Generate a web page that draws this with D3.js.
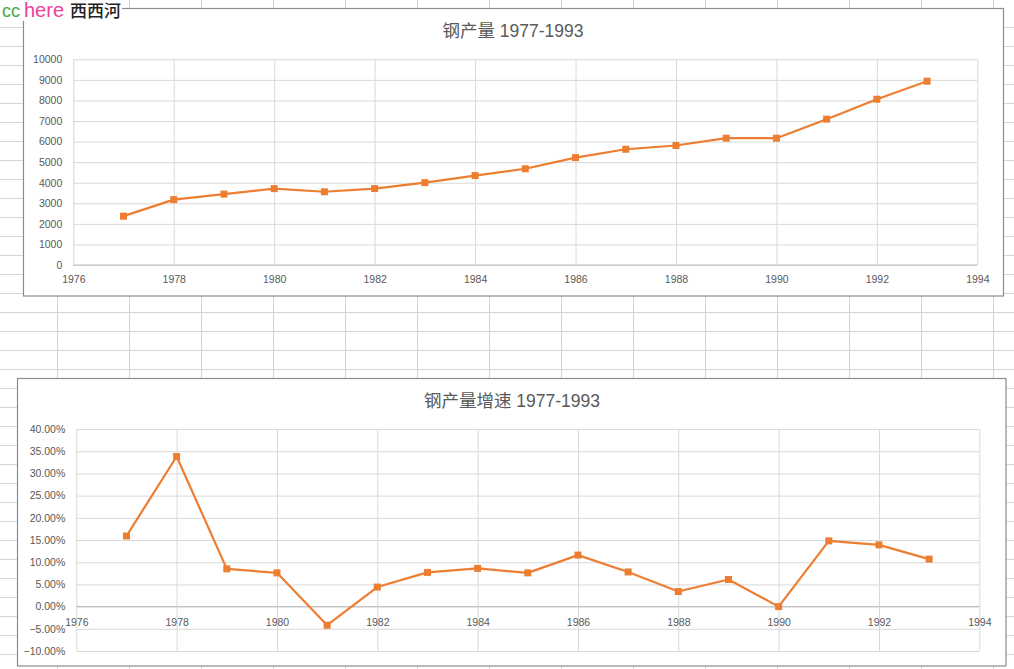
<!DOCTYPE html>
<html>
<head>
<meta charset="utf-8">
<script src="https://cdn.jsdelivr.net/npm/d3@7"></script>
<style>
  body { margin: 0; background: #fff; }
  text { font-family: "Liberation Sans", "Noto Sans CJK SC", sans-serif; }
</style>
</head>
<body>
<div id="vis"></div>
<script>
// datos
const years = [1977, 1978, 1979, 1980, 1981, 1982, 1983, 1984, 1985, 1986, 1987, 1988, 1989, 1990, 1991, 1992, 1993];
const output = [2374, 3178, 3448, 3712, 3560, 3716, 4002, 4347, 4679, 5220, 5628, 5810, 6165, 6165, 7090, 8060, 8935];
const growth = [0.159, 0.338, 0.085, 0.076, -0.042, 0.044, 0.077, 0.086, 0.076, 0.116, 0.078, 0.034, 0.061, 0.0, 0.148, 0.139, 0.107];
const yearTicks = [1976, 1978, 1980, 1982, 1984, 1986, 1988, 1990, 1992, 1994];
const outputTicks = [0, 1000, 2000, 3000, 4000, 5000, 6000, 7000, 8000, 9000, 10000];
const growthTicks = [-0.10, -0.05, 0, 0.05, 0.10, 0.15, 0.20, 0.25, 0.30, 0.35, 0.40];
const title1 = "钢产量 1977-1993";
const title2 = "钢产量增速 1977-1993";

const W = 1014, H = 669;
const orange = "#ED7D31";
const textGrey = "#595959";

const svg = d3.select("#vis").append("svg");
svg.attr("width", W).attr("height", H);

// cuadricula de la hoja de calculo
const sheet = svg.append("g").attr("stroke", "#d4d4d4").attr("stroke-width", 1);
sheet.selectAll("line.row")
    .data(d3.range(27.5, H, 19))
    .join("line")
    .attr("class", "row")
    .attr("x1", 0).attr("x2", W)
    .attr("y1", d => d).attr("y2", d => d);
sheet.selectAll("line.col")
    .data(d3.range(57.5, W, 72))
    .join("line")
    .attr("class", "col")
    .attr("x1", d => d).attr("x2", d => d)
    .attr("y1", 0).attr("y2", H);

function drawChart(cfg) {
    const g = svg.append("g");

    g.append("rect")
        .attr("x", cfg.box[0]).attr("y", cfg.box[1])
        .attr("width", cfg.box[2]).attr("height", cfg.box[3])
        .attr("fill", "#fff")
        .attr("stroke", "#8c8c8c")
        .attr("stroke-width", 1.2);

    g.append("text")
        .attr("x", cfg.titleX)
        .attr("y", cfg.titleY)
        .attr("text-anchor", "middle")
        .attr("fill", textGrey)
        .style("font-size", "17.5px")
        .text(cfg.title);

    const x = d3.scaleLinear().domain([1976, 1994]).range(cfg.xr);
    const y = d3.scaleLinear().domain(cfg.yd).range(cfg.yr);

    // lineas horizontales + etiquetas del eje y
    const gy = g.append("g")
        .attr("transform", `translate(${cfg.xr[0]},0)`)
        .call(d3.axisLeft(y)
            .tickValues(cfg.yTicks)
            .tickSize(-(cfg.xr[1] - cfg.xr[0]))
            .tickPadding(11)
            .tickFormat(cfg.fmt));
    gy.select(".domain").remove();
    gy.selectAll("line").attr("stroke", "#d9d9d9");
    gy.selectAll("text").attr("fill", textGrey).style("font-size", "10.5px")
        .style("font-family", "'Liberation Sans', sans-serif");

    // lineas verticales
    const gx = g.append("g")
        .attr("transform", `translate(0,${cfg.yr[0]})`)
        .call(d3.axisBottom(x)
            .tickValues(yearTicks)
            .tickSize(-(cfg.yr[0] - cfg.yr[1]))
            .tickFormat(""));
    gx.select(".domain").remove();
    gx.selectAll("line").attr("stroke", "#d9d9d9");

    // eje en cero
    g.append("line")
        .attr("x1", cfg.xr[0]).attr("x2", cfg.xr[1])
        .attr("y1", y(0)).attr("y2", y(0))
        .attr("stroke", "#bfbfbf")
        .attr("stroke-width", 1);

    const gl = g.append("g")
        .attr("transform", `translate(0,${y(0)})`)
        .call(d3.axisBottom(x)
            .tickValues(yearTicks)
            .tickSize(0)
            .tickPadding(cfg.xPad)
            .tickFormat(d3.format("d")));
    gl.select(".domain").remove();
    gl.selectAll("text").attr("fill", textGrey).style("font-size", "10.5px")
        .style("font-family", "'Liberation Sans', sans-serif");

    const line = d3.line()
        .x((d, i) => x(years[i]))
        .y(d => y(d));

    g.append("path")
        .datum(cfg.values)
        .attr("d", line)
        .attr("fill", "none")
        .attr("stroke", orange)
        .attr("stroke-width", 2.2)
        .attr("stroke-linejoin", "round");

    g.selectAll("rect.marker")
        .data(cfg.values)
        .join("rect")
        .attr("class", "marker")
        .attr("x", (d, i) => x(years[i]) - 3.5)
        .attr("y", d => y(d) - 3.5)
        .attr("width", 7)
        .attr("height", 7)
        .attr("fill", orange);
}

drawChart({
    box: [23.5, 8.5, 980, 287.5],
    title: title1,
    titleX: 513, titleY: 37,
    xr: [73.3, 977.3],
    yd: [0, 10000],
    yr: [265, 59.3],
    yTicks: outputTicks,
    fmt: d3.format("d"),
    xPad: 11,
    values: output
});

drawChart({
    box: [17.5, 378.5, 988.5, 287.5],
    title: title2,
    titleX: 512, titleY: 407,
    xr: [76.3, 979.3],
    yd: [-0.10, 0.40],
    yr: [651, 429],
    yTicks: growthTicks,
    fmt: d3.format(".2%"),
    xPad: 11.5,
    values: growth
});

// logo
const logo = svg.append("g");
logo.append("rect")
    .attr("x", 0).attr("y", 0)
    .attr("width", 122).attr("height", 21)
    .attr("fill", "#fff");
logo.append("text").attr("x", 2).attr("y", 17)
    .attr("fill", "#4aa84a").style("font-size", "18px").text("cc");
logo.append("text").attr("x", 24).attr("y", 17)
    .attr("fill", "#ee3f9a").style("font-size", "20px").text("here");
logo.append("text").attr("x", 70).attr("y", 17)
    .attr("fill", "#222").style("font-size", "17px").style("font-weight", "500")
    .text("西西河");
</script>
</body>
</html>
